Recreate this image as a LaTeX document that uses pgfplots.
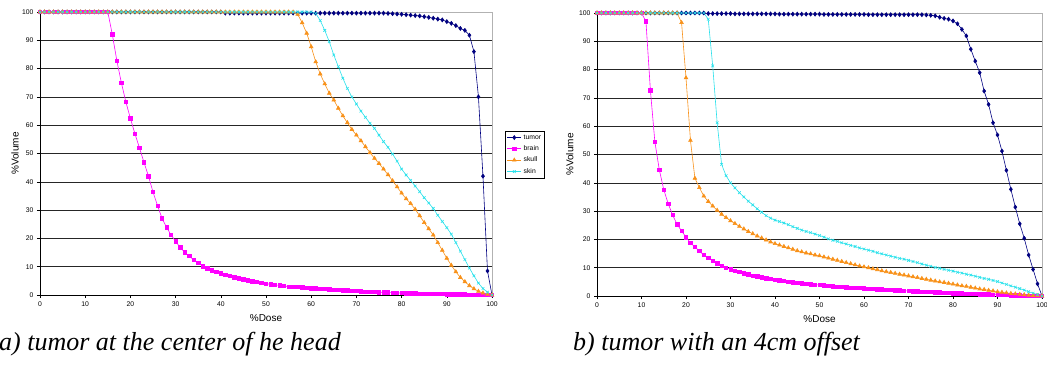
\documentclass[border=0pt]{standalone}
\usepackage{pgfplots}
\pgfplotsset{compat=1.18}
\usepackage{pgfplotstable}
\usepackage{fontspec}
\setmainfont{Liberation Sans}
\newfontfamily\capfont{Liberation Serif}
\definecolor{cTumor}{RGB}{0,0,128}
\definecolor{cBrain}{RGB}{255,0,255}
\definecolor{cSkull}{RGB}{248,145,25}
\definecolor{cSkin}{RGB}{40,225,235}

\pgfplotstableread{
x tu br sk sn
0 100 100 100 100
1 100 100 100 100
2 100 100 100 100
3 100 100 100 100
4 100 100 100 100
5 100 100 100 100
6 100 100 100 100
7 100 100 100 100
8 100 100 100 100
9 100 100 100 100
10 100 100 100 100
11 100 100 100 100
12 100 100 100 100
13 100 100 100 100
14 100 100 100 100
15 100 100 100 100
16 100 92.1 100 100
17 100 82.8 100 100
18 100 75.0 100 100
19 100 68.2 100 100
20 100 62.4 100 100
21 100 57.0 100 100
22 100 52.0 100 100
23 100 46.9 100 100
24 100 42.0 100 100
25 100 36.4 100 100
26 100 31.6 100 100
27 100 27.1 100 100
28 100 23.9 100 100
29 100 21.2 100 100
30 100 19.0 100 100
31 100 16.8 100 100
32 100 15.1 100 100
33 100 13.8 100 100
34 100 12.4 100 100
35 100 11.4 100 100
36 100 10.2 100 100
37 100 9.4 100 100
38 100 8.7 100 100
39 100 8.1 100 100
40 100 7.6 100 100
41 99.6 7.1 100 100
42 99.6 6.7 100 100
43 99.6 6.3 100 100
44 99.6 5.9 100 100
45 99.6 5.5 100 100
46 99.6 5.2 100 100
47 99.6 4.9 100 100
48 99.6 4.6 100 100
49 99.6 4.3 100 100
50 99.6 4.0 100 100
51 99.6 3.8 100 100
52 99.6 3.6 100 100
53 99.6 3.4 100 100
54 99.6 3.2 100 100
55 99.6 3.0 100 100
56 99.6 2.9 100 100
57 99.6 2.8 99.2 100
58 99.6 2.7 96.2 100
59 99.6 2.5 92.5 100
60 99.6 2.4 87.7 100
61 99.6 2.3 82.4 99.5
62 99.6 2.2 78.1 97.0
63 99.6 2.1 74.6 93.5
64 99.6 2.0 71.3 89.5
65 99.6 1.9 68.9 84.8
66 99.6 1.8 66.0 80.7
67 99.6 1.7 63.3 76.6
68 99.6 1.6 60.9 73.0
69 99.6 1.5 58.5 70.0
70 99.6 1.4 56.5 67.5
71 99.6 1.3 54.5 65.0
72 99.6 1.2 52.4 62.8
73 99.6 1.1 50.3 60.7
74 99.6 1.05 48.3 58.9
75 99.6 1.0 46.5 56.5
76 99.6 0.95 44.5 54.2
77 99.5 0.9 42.5 52.2
78 99.4 0.8 40.4 49.8
79 99.3 0.75 38.2 47.3
80 99.2 0.7 36.0 44.5
81 99.05 0.65 34.0 42.4
82 98.9 0.6 32.3 40.5
83 98.75 0.55 30.3 38.5
84 98.6 0.5 28.0 36.5
85 98.35 0.5 25.6 34.4
86 98.1 0.45 23.4 32.5
87 97.8 0.4 21.2 30.6
88 97.5 0.4 18.5 28.2
89 97.2 0.35 15.8 26.0
90 96.6 0.3 13.0 23.8
91 96.0 0.3 10.5 21.5
92 95.2 0.25 8.2 18.5
93 94.2 0.2 6.2 15.5
94 93.5 0.2 4.7 12.5
95 91.8 0.15 3.3 9.5
96 86.0 0.12 2.2 6.8
97 70.0 0.1 1.3 4.2
98 42.0 0.08 0.7 2.3
99 8.5 0.05 0.3 1.0
100 0 0 0 0
}\leftdata

\pgfplotstableread{
x tu br sk sn
0 100 100 100 100
1 100 100 100 100
2 100 100 100 100
3 100 100 100 100
4 100 100 100 100
5 100 100 100 100
6 100 100 100 100
7 100 100 100 100
8 100 100 100 100
9 100 100 100 100
10 100 100 100 100
11 100 97.0 100 100
12 100 72.7 100 100
13 100 54.5 100 100
14 100 44.6 100 100
15 100 37.6 100 100
16 100 32.6 100 100
17 100 28.6 100 100
18 100 25.3 100 100
19 100 23.0 96.6 100
20 100 20.8 77.1 100
21 100 18.8 55.0 100
22 100 17.3 41.6 100
23 100 15.9 38.3 100
24 100 14.5 35.3 100
25 99.8 13.5 33.4 97.8
26 99.8 12.4 31.8 81.3
27 99.8 11.5 30.3 61.2
28 99.8 10.7 28.9 46.5
29 99.8 10.0 27.7 42.5
30 99.8 9.4 26.6 40.0
31 99.7 8.9 25.6 38.2
32 99.7 8.5 24.6 36.5
33 99.7 8.0 23.7 35.0
34 99.7 7.6 22.8 33.5
35 99.7 7.2 22.0 32.2
36 99.7 6.9 21.2 30.8
37 99.7 6.6 20.5 29.6
38 99.7 6.3 19.8 28.4
39 99.7 6.0 19.1 27.5
40 99.7 5.8 18.5 26.8
41 99.6 5.6 18.0 26.3
42 99.6 5.3 17.5 25.8
43 99.6 5.1 17.0 25.2
44 99.6 4.9 16.5 24.5
45 99.6 4.7 16.0 23.9
46 99.6 4.5 15.6 23.3
47 99.6 4.4 15.2 22.8
48 99.6 4.2 14.9 22.4
49 99.6 4.0 14.5 21.9
50 99.6 3.9 14.2 21.4
51 99.5 3.75 13.8 20.8
52 99.5 3.6 13.4 20.2
53 99.5 3.45 13.0 19.7
54 99.5 3.3 12.6 19.3
55 99.5 3.2 12.2 18.8
56 99.5 3.1 11.8 18.4
57 99.5 3.0 11.4 17.9
58 99.5 2.9 11.0 17.5
59 99.5 2.8 10.6 17.0
60 99.5 2.7 10.3 16.6
61 99.4 2.6 10.0 16.2
62 99.4 2.5 9.6 15.8
63 99.4 2.4 9.3 15.3
64 99.4 2.3 8.9 14.9
65 99.4 2.2 8.6 14.5
66 99.4 2.1 8.3 14.1
67 99.4 2.0 8.0 13.7
68 99.4 1.95 7.7 13.3
69 99.4 1.85 7.4 13.0
70 99.4 1.8 7.1 12.6
71 99.4 1.7 6.8 12.2
72 99.4 1.6 6.5 11.8
73 99.4 1.55 6.2 11.3
74 99.3 1.45 5.9 10.9
75 99.2 1.4 5.6 10.5
76 99.0 1.3 5.3 10.1
77 98.5 1.25 5.0 9.8
78 98.1 1.15 4.8 9.4
79 97.8 1.1 4.5 9.1
80 97.2 1.0 4.2 8.8
81 96.2 0.95 3.9 8.4
82 94.2 0.9 3.6 8.1
83 91.9 0.8 3.4 7.7
84 87.2 0.75 3.1 7.4
85 83.0 0.7 2.8 7.0
86 78.9 0.65 2.5 6.6
87 72.4 0.6 2.3 6.2
88 67.7 0.55 2.0 5.9
89 61.2 0.5 1.8 5.5
90 56.9 0.5 1.5 5.1
91 51.2 0.45 1.3 4.6
92 44.4 0.4 1.1 4.1
93 37.7 0.3 0.9 3.6
94 31.4 0.25 0.75 3.1
95 25.5 0.2 0.6 2.6
96 20.4 0.15 0.45 2.1
97 14.5 0.1 0.3 1.5
98 9.4 0.08 0.2 1.0
99 4.3 0.05 0.1 0.5
100 0 0 0 0
}\rightdata

\pgfplotsset{
  dvh/.style={
    scale only axis, height=283pt,
    xmin=0, xmax=100, ymin=0, ymax=100,
    xtick={0,10,...,100}, ytick={0,10,...,90},
    extra y ticks={100}, extra y tick style={grid=none},
    ymajorgrids, major grid style={black!85, line width=0.6pt},
    tick align=outside, major tick length=3pt, tick pos=left,
    tick style={black, line width=0.5pt},
    axis line style={gray!60, line width=0.6pt},
    ticklabel style={font=\fontsize{6.8}{7}\selectfont},
    /pgf/number format/assume math mode=true,
    clip=false,
    xlabel={\%Dose}, ylabel={\%Volume},
    label style={font=\fontsize{6.3}{7}\selectfont},
    every axis plot/.append style={line width=0.6pt},
    every axis x label/.style={at={(axis description cs:0.5,-0.081)}, anchor=center},
  },
  ptu/.style={cTumor, mark=diamond*, mark size=2pt},
  pbr/.style={cBrain, mark=square*, mark size=1.7pt},
  psk/.style={cSkull, mark=triangle*, mark size=2.1pt},
  psn/.style={cSkin, mark=x, mark size=1.9pt},
}

\begin{document}
\begin{tikzpicture}
\useasboundingbox (0,0) rectangle (1047pt,370pt);

\begin{axis}[dvh, at={(40pt,75pt)}, anchor=south west, width=452pt,
  every axis y label/.style={at={(axis description cs:-0.055,0.5)}, rotate=90, anchor=center},
  legend style={at={(1.029,0.58)}, anchor=north west, draw=black, line width=0.5pt,
    font=\fontsize{6.8}{8}\selectfont, inner sep=1.5pt, row sep=1pt,
    cells={anchor=west}},
  legend image code/.code={\draw[#1] (0cm,0cm) -- (0.5cm,0cm); \draw[#1, only marks] plot coordinates {(0.25cm,0cm)};}
]
\addplot[ptu] table[x=x, y=tu] {\leftdata}; \addlegendentry{tumor}
\addplot[pbr] table[x=x, y=br] {\leftdata}; \addlegendentry{brain}
\addplot[psk] table[x=x, y=sk] {\leftdata}; \addlegendentry{skull}
\addplot[psn] table[x=x, y=sn] {\leftdata}; \addlegendentry{skin}
\draw[black, line width=0.6pt] (rel axis cs:0,1) -- (rel axis cs:0,0) -- (rel axis cs:1,0);
\end{axis}

\begin{axis}[dvh, at={(597pt,74pt)}, anchor=south west, width=445pt,
  every axis y label/.style={at={(axis description cs:-0.061,0.5)}, rotate=90, anchor=center}
]
\addplot[ptu] table[x=x, y=tu] {\rightdata};
\addplot[pbr] table[x=x, y=br] {\rightdata};
\addplot[psk] table[x=x, y=sk] {\rightdata};
\addplot[psn] table[x=x, y=sn] {\rightdata};
\draw[black, line width=0.6pt] (rel axis cs:0,1) -- (rel axis cs:0,0) -- (rel axis cs:1,0);
\end{axis}

\node[anchor=base west, inner sep=0pt, font=\capfont\itshape\fontsize{26}{30}\selectfont] at (-1pt,20pt) {a) tumor at the center of he head};
\node[anchor=base west, inner sep=0pt, font=\capfont\itshape\fontsize{26}{30}\selectfont] at (573pt,20pt) {b) tumor with an 4cm offset};
\end{tikzpicture}
\end{document}
